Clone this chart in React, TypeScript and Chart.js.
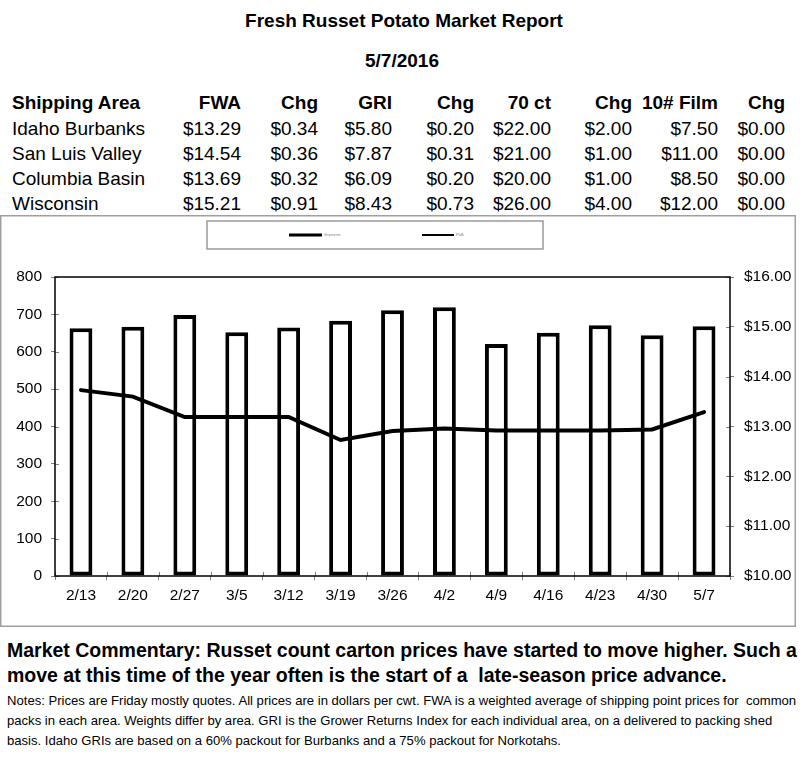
import React, { useEffect, useRef } from "react";
import { Chart, registerables } from "chart.js";

Chart.register(...registerables);

// ---------- DATA ----------
const weeks = ["2/13", "2/20", "2/27", "3/5", "3/12", "3/19", "3/26", "4/2", "4/9", "4/16", "4/23", "4/30", "5/7"];
const shipments = [663, 667, 698, 652, 665, 683, 711, 719, 621, 651, 671, 644, 668];
const fwaPrice = [13.73, 13.6, 13.19, 13.19, 13.19, 12.73, 12.91, 12.96, 12.92, 12.92, 12.92, 12.94, 13.29];
const seriesLabels = ["Shipments", "FWA"];
const leftAxis = { min: 0, max: 800, step: 100 };
const rightAxis = { min: 10, max: 16, step: 1 };

const reportTitle = "Fresh Russet Potato Market Report";
const reportDate = "5/7/2016";
const tableHeaders = ["Shipping Area", "FWA", "Chg", "GRI", "Chg", "70 ct", "Chg", "10# Film", "Chg"];
const areas = ["Idaho Burbanks", "San Luis Valley", "Columbia Basin", "Wisconsin"];
const fwaCol = ["$13.29", "$14.54", "$13.69", "$15.21"];
const fwaChg = ["$0.34", "$0.36", "$0.32", "$0.91"];
const griCol = ["$5.80", "$7.87", "$6.09", "$8.43"];
const griChg = ["$0.20", "$0.31", "$0.20", "$0.73"];
const ct70Col = ["$22.00", "$21.00", "$20.00", "$26.00"];
const ct70Chg = ["$2.00", "$1.00", "$1.00", "$4.00"];
const filmCol = ["$7.50", "$11.00", "$8.50", "$12.00"];
const filmChg = ["$0.00", "$0.00", "$0.00", "$0.00"];

const commentary = [
  "Market Commentary: Russet count carton prices have started to move higher. Such a",
  "move at this time of the year often is the start of a  late-season price advance.",
];
const notes = [
  "Notes: Prices are Friday mostly quotes. All prices are in dollars per cwt. FWA is a weighted average of shipping point prices for  common",
  "packs in each area. Weights differ by area. GRI is the Grower Returns Index for each individual area, on a delivered to packing shed",
  "basis. Idaho GRIs are based on a 60% packout for Burbanks and a 75% packout for Norkotahs.",
];

// ---------- LAYOUT ----------
const FONT = "'Liberation Sans', Arial, Helvetica, sans-serif";
const colRight = [0, 241, 318, 392, 474, 551, 632, 718, 785];
const rowY = [128, 153, 178, 203];

function Txt(props: {
  x: number;
  y: number;
  size: number;
  bold?: boolean;
  align?: "left" | "right" | "center";
  children: React.ReactNode;
}) {
  const { x, y, size, bold, align = "left", children } = props;
  const W = 900;
  let left = x;
  if (align === "right") left = x - W;
  if (align === "center") left = x - W / 2;
  return (
    <div
      style={{
        position: "absolute",
        left,
        top: y - 0.49 * size,
        width: W,
        textAlign: align,
        fontFamily: FONT,
        fontSize: size,
        lineHeight: `${size}px`,
        fontWeight: bold ? "bold" : "normal",
        whiteSpace: "pre",
        color: "#000",
      }}
    >
      {children}
    </div>
  );
}

const framePlugin = {
  id: "frameAndLegend",
  afterDraw(chart: any) {
    const { ctx, chartArea, width, height } = chart;
    const ca = chartArea;
    ctx.save();
    // outer box
    ctx.strokeStyle = "#a0a0a0";
    ctx.lineWidth = 1.5;
    ctx.strokeRect(0.75, 0.75, width - 1.5, height - 1.5);
    // legend box
    ctx.strokeStyle = "#9a9a9a";
    ctx.lineWidth = 1.5;
    ctx.strokeRect(207, 6, 336, 28);
    const ds = chart.data.datasets;
    const samples = [
      { x: 289, w: 33, lw: 3, tx: 324 },
      { x: 422, w: 32, lw: 2, tx: 456 },
    ];
    ctx.fillStyle = "#888";
    ctx.font = `3.5px ${FONT}`;
    ctx.textBaseline = "middle";
    samples.forEach((s, i) => {
      ctx.strokeStyle = "#000";
      ctx.lineWidth = s.lw;
      ctx.beginPath();
      ctx.moveTo(s.x, 20);
      ctx.lineTo(s.x + s.w, 20);
      ctx.stroke();
      ctx.fillText(ds[i].label, s.tx, 20);
    });
    // inner tick marks
    ctx.strokeStyle = "#808080";
    ctx.lineWidth = 1;
    const yl = chart.scales.y;
    const yr = chart.scales.y1;
    const xs = chart.scales.x;
    yl.ticks.forEach((_: any, i: number) => {
      const p = Math.round(yl.getPixelForTick(i)) + 0.5;
      ctx.beginPath();
      ctx.moveTo(ca.left, p);
      ctx.lineTo(ca.left + 4, p);
      ctx.stroke();
    });
    yr.ticks.forEach((_: any, i: number) => {
      const p = Math.round(yr.getPixelForTick(i)) + 0.5;
      ctx.beginPath();
      ctx.moveTo(ca.right - 4, p);
      ctx.lineTo(ca.right, p);
      ctx.stroke();
    });
    const n = xs.ticks.length;
    const cw = (ca.right - ca.left) / n;
    for (let i = 0; i <= n; i++) {
      const p = Math.round(ca.left + i * cw) + 0.5;
      ctx.beginPath();
      ctx.moveTo(p, ca.bottom - 4);
      ctx.lineTo(p, ca.bottom);
      ctx.stroke();
    }
    // plot frame
    ctx.strokeStyle = "#000";
    ctx.lineWidth = 1.5;
    ctx.strokeRect(ca.left, ca.top, ca.right - ca.left, ca.bottom - ca.top);
    ctx.restore();
  },
};

function PotatoChart() {
  const ref = useRef<HTMLCanvasElement | null>(null);
  useEffect(() => {
    if (!ref.current) return;
    const tickFont = { family: FONT, size: 15.5 };
    const chart = new Chart(ref.current, {
      type: "bar",
      data: {
        labels: weeks,
        datasets: [
          {
            type: "bar",
            label: seriesLabels[0],
            data: shipments,
            yAxisID: "y",
            backgroundColor: "#ffffff",
            borderColor: "#000000",
            borderWidth: 4,
            borderSkipped: false,
            categoryPercentage: 1,
            barPercentage: 0.44,
            order: 2,
          } as any,
          {
            type: "line",
            label: seriesLabels[1],
            data: fwaPrice,
            yAxisID: "y1",
            borderColor: "#000000",
            borderWidth: 4,
            pointRadius: 0,
            tension: 0,
            fill: false,
            borderCapStyle: "round",
            order: 1,
          } as any,
        ],
      },
      options: {
        animation: false,
        responsive: true,
        maintainAspectRatio: false,
        layout: { padding: { top: 62, left: 0, right: 0, bottom: 0 } },
        plugins: { legend: { display: false }, tooltip: { enabled: false } },
        scales: {
          x: {
            offset: true,
            grid: { offset: true, drawOnChartArea: false, drawTicks: true, tickLength: 4, color: "#808080" },
            border: { display: false },
            ticks: { color: "#000", font: tickFont, padding: 6, maxRotation: 0, autoSkip: false },
            afterFit: (s: any) => {
              s.height = 51;
            },
          },
          y: {
            position: "left",
            min: leftAxis.min,
            max: leftAxis.max,
            grid: { drawOnChartArea: false, drawTicks: true, tickLength: 4, color: "#808080" },
            border: { display: false },
            ticks: { stepSize: leftAxis.step, color: "#000", font: tickFont, padding: 9 },
            afterFit: (s: any) => {
              s.width = 55;
            },
          },
          y1: {
            position: "right",
            min: rightAxis.min,
            max: rightAxis.max,
            grid: { drawOnChartArea: false, drawTicks: true, tickLength: 4, color: "#808080" },
            border: { display: false },
            ticks: {
              stepSize: rightAxis.step,
              color: "#000",
              font: tickFont,
              padding: 10,
              callback: (v: any) => "$" + Number(v).toFixed(2),
            },
            afterFit: (s: any) => {
              s.width = 66;
            },
          },
        },
      } as any,
      plugins: [framePlugin],
    });
    return () => chart.destroy();
  }, []);
  return (
    <div style={{ position: "absolute", left: 0, top: 215, width: 796, height: 412 }}>
      <canvas ref={ref} />
    </div>
  );
}

export default function App() {
  const cols = [areas, fwaCol, fwaChg, griCol, griChg, ct70Col, ct70Chg, filmCol, filmChg];
  return (
    <div style={{ position: "absolute", left: 0, top: 0, width: 800, height: 759, background: "#fff", overflow: "hidden" }}>
      <Txt x={404} y={20} size={19} bold align="center">{reportTitle}</Txt>
      <Txt x={402} y={60} size={19} bold align="center">{reportDate}</Txt>
      {tableHeaders.map((h, c) =>
        c === 0 ? (
          <Txt key={"h" + c} x={12} y={102} size={19} bold>{h}</Txt>
        ) : (
          <Txt key={"h" + c} x={colRight[c]} y={102} size={19} bold align="right">{h}</Txt>
        )
      )}
      {areas.map((_, r) =>
        cols.map((col, c) =>
          c === 0 ? (
            <Txt key={r + "-" + c} x={12} y={rowY[r]} size={19}>{col[r]}</Txt>
          ) : (
            <Txt key={r + "-" + c} x={colRight[c]} y={rowY[r]} size={19} align="right">{col[r]}</Txt>
          )
        )
      )}
      <PotatoChart />
      {commentary.map((t, i) => (
        <Txt key={"m" + i} x={7} y={651 + i * 25} size={19.5} bold>{t}</Txt>
      ))}
      {notes.map((t, i) => (
        <Txt key={"n" + i} x={7} y={700 + i * 20} size={13.1}>{t}</Txt>
      ))}
    </div>
  );
}
